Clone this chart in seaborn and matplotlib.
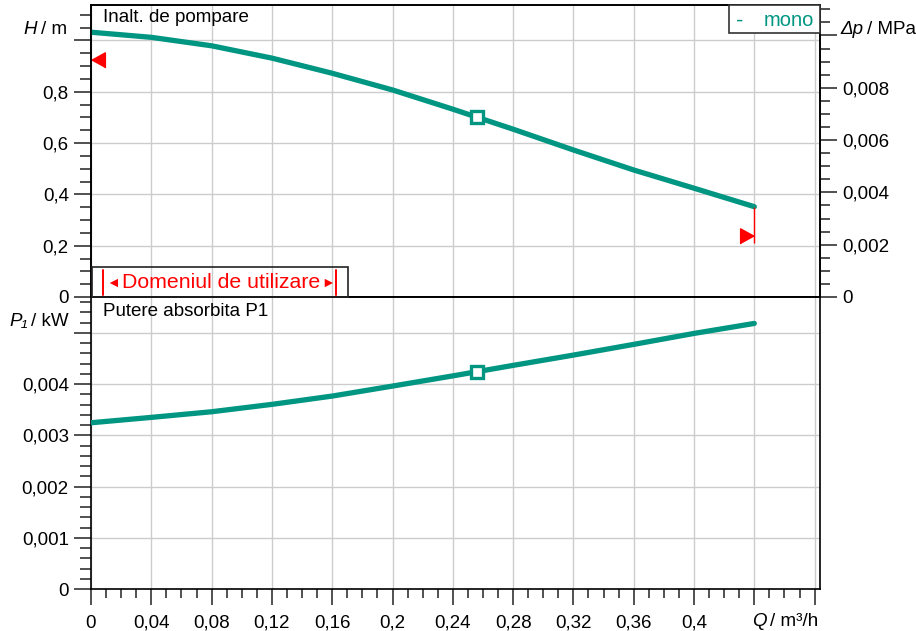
import matplotlib

matplotlib.use("Agg")

import matplotlib.pyplot as plt
import pandas as pd
import seaborn as sns
from matplotlib.patches import Rectangle
from matplotlib.ticker import FixedLocator, MultipleLocator

# pump curve
q_values = [0.0, 0.04, 0.08, 0.12, 0.16, 0.2, 0.24, 0.28, 0.32, 0.36, 0.4, 0.44]
head_m = [1.032, 1.012, 0.979, 0.931, 0.872, 0.807, 0.732, 0.654, 0.573, 0.495, 0.424, 0.352]
power_kw = [0.003245, 0.00335, 0.00346, 0.003604, 0.003766, 0.003961,
            0.00416, 0.004365, 0.004566, 0.004775, 0.004989, 0.005184]

# duty point
q_duty = [0.2559]
h_duty = [0.703]
p_duty = [0.00424]

# operating range limits (red markers)
q_limit = [0.0, 0.44]
h_limit = [0.922, 0.238]
h_limit_line = [0.21, 0.352]

q_ticks = [0.0, 0.04, 0.08, 0.12, 0.16, 0.2, 0.24, 0.28, 0.32, 0.36, 0.4, 0.44, 0.48]
q_labels = ["0", "0,04", "0,08", "0,12", "0,16", "0,2", "0,24", "0,28", "0,32", "0,36", "0,4", "", ""]
h_ticks = [0.0, 0.2, 0.4, 0.6, 0.8, 1.0]
h_labels = ["0", "0,2", "0,4", "0,6", "0,8", ""]
dp_ticks = [0.0, 0.002, 0.004, 0.006, 0.008, 0.01]
dp_labels = ["0", "0,002", "0,004", "0,006", "0,008", ""]
p_ticks = [0.0, 0.001, 0.002, 0.003, 0.004, 0.005]
p_labels = ["0", "0,001", "0,002", "0,003", "0,004", ""]

RHO_G = 0.00981  # MPa per metre of head
GREEN = "#009682"
RED = "#ff0000"
W, H = 916, 631

df = pd.DataFrame({"Q": q_values, "H": head_m, "P1": power_kw})

sns.set_theme(style="white")
plt.rcParams["font.family"] = ["Liberation Sans", "DejaVu Sans"]
plt.rcParams["axes.edgecolor"] = "black"
plt.rcParams["axes.linewidth"] = 1.2
plt.rcParams["text.color"] = "black"


def fx(px: float) -> float:
    return px / W


def fy(py: float) -> float:
    return 1 - py / H


def style_axis(ax, xmax: float) -> None:
    ax.set_xlim(0, xmax)
    ax.xaxis.set_major_locator(FixedLocator(q_ticks))
    ax.xaxis.set_minor_locator(MultipleLocator(0.01))
    ax.grid(which="major", color="#cccccc", lw=1.0)
    ax.set_axisbelow(True)
    for sp in ax.spines.values():
        sp.set_visible(True)
        sp.set_color("black")
    ax.tick_params(which="both", direction="out", color="#222222", width=1.1,
                   labelsize=13.5, labelcolor="black")
    ax.tick_params(axis="y", which="major", length=12.5, pad=3.5, left=True)
    ax.tick_params(axis="y", which="minor", length=8, left=True)
    ax.set_xlabel("")
    ax.set_ylabel("")


fig = plt.figure(figsize=(W / 100, H / 100), dpi=100)
xmax = 729 / 1507.5

ax_h = fig.add_axes([fx(91), fy(297), 729 / W, 292 / H])
ax_p = fig.add_axes([fx(91), fy(589), 729 / W, 292 / H])

# --- head panel ---
sns.lineplot(data=df, x="Q", y="H", ax=ax_h, color=GREEN, lw=3.8,
             solid_capstyle="round", solid_joinstyle="round", zorder=3)
ax_h.plot(q_duty, h_duty, marker="s", ms=8, mfc="white", mec=GREEN, mew=2.4,
          ls="none", zorder=4)
style_axis(ax_h, xmax)
ax_h.set_ylim(0, 1.138)
ax_h.yaxis.set_major_locator(FixedLocator(h_ticks))
ax_h.yaxis.set_minor_locator(MultipleLocator(0.05))
ax_h.set_yticklabels(h_labels)
ax_h.tick_params(axis="x", which="both", length=0, labelbottom=False)

ax_h.vlines(q_limit[1], h_limit_line[0], h_limit_line[1], color=RED, lw=1.0, zorder=3)
tri_left = [(0, 0), (1, 0.55), (1, -0.55)]
tri_right = [(0, 0), (-1, 0.55), (-1, -0.55)]
ax_h.plot(q_limit[:1], h_limit[:1], marker=tri_left, ms=20, color=RED, ls="none",
          clip_on=False, zorder=5)
ax_h.plot(q_limit[1:], h_limit[1:], marker=tri_right, ms=20, color=RED, ls="none",
          zorder=5)

ax_dp = ax_h.twinx()
ax_dp.set_ylim(0, 1.138 * RHO_G)
ax_dp.yaxis.set_major_locator(FixedLocator(dp_ticks))
ax_dp.yaxis.set_minor_locator(MultipleLocator(0.0005))
ax_dp.set_yticklabels(dp_labels)
ax_dp.grid(False)
ax_dp.tick_params(which="both", direction="out", color="#222222", width=1.1,
                  labelsize=13.5, labelcolor="black", right=True)
ax_dp.tick_params(axis="y", which="major", length=12.5, pad=3.5)
ax_dp.tick_params(axis="y", which="minor", length=7)

# --- power panel ---
sns.lineplot(data=df, x="Q", y="P1", ax=ax_p, color=GREEN, lw=3.8,
             solid_capstyle="round", solid_joinstyle="round", zorder=3)
ax_p.plot(q_duty, p_duty, marker="s", ms=8, mfc="white", mec=GREEN, mew=2.4,
          ls="none", zorder=4)
style_axis(ax_p, xmax)
ax_p.set_ylim(0, 0.0057)
ax_p.yaxis.set_major_locator(FixedLocator(p_ticks))
ax_p.yaxis.set_minor_locator(MultipleLocator(0.0002))
ax_p.set_yticklabels(p_labels)
ax_p.set_xticklabels(q_labels)
ax_p.tick_params(axis="x", which="major", length=11.5, pad=7, bottom=True)
ax_p.tick_params(axis="x", which="minor", length=6.5, bottom=True)

# --- texts ---
fs = 13.5
fig.text(fx(103), fy(18), "Inalt. de pompare", fontsize=fs, va="center", ha="left")
fig.text(fx(103), fy(312), "Putere absorbita P1", fontsize=fs, va="center", ha="left")

fig.text(fx(23), fy(29), "H", fontsize=fs, style="italic", va="center", ha="left")
fig.text(fx(41), fy(29), "/ m", fontsize=fs, va="center", ha="left")
fig.text(fx(9), fy(321), "P\u2081", fontsize=fs, style="italic", va="center", ha="left")
fig.text(fx(31), fy(321), "/ kW", fontsize=fs, va="center", ha="left")
fig.text(fx(840), fy(30), "\u0394p", fontsize=fs, style="italic", va="center", ha="left")
fig.text(fx(867), fy(30), "/ MPa", fontsize=fs, va="center", ha="left")
fig.text(fx(752), fy(622), "Q", fontsize=fs, style="italic", va="center", ha="left")
fig.text(fx(770), fy(622), "/ m\u00b3/h", fontsize=fs, va="center", ha="left")

# legend box
fig.patches.append(Rectangle((fx(729), fy(33)), 91 / W, 28 / H, transform=fig.transFigure,
                             fc="white", ec="#333333", lw=1.2, zorder=5))
fig.text(fx(736), fy(21), "-", fontsize=16, color=GREEN, va="center", ha="left", zorder=6)
fig.text(fx(814), fy(20), "mono", fontsize=14.5, color=GREEN, va="center", ha="right", zorder=6)

# operating range box
fig.patches.append(Rectangle((fx(92), fy(297)), 256 / W, 30 / H, transform=fig.transFigure,
                             fc="none", ec="#222222", lw=1.2, zorder=5))
for bx in (103, 336):
    fig.add_artist(plt.Line2D([fx(bx), fx(bx)], [fy(295), fy(270)], color=RED, lw=1.4,
                              transform=fig.transFigure))
fig.text(fx(106), fy(283), "\u25c4", fontsize=10, color=RED, va="center", ha="left")
fig.text(fx(335), fy(283), "\u25ba", fontsize=10, color=RED, va="center", ha="right")
fig.text(fx(122), fy(283), "Domeniul de utilizare", fontsize=15.3, color=RED,
         va="center", ha="left")

fig.savefig("out.png", dpi=100)
